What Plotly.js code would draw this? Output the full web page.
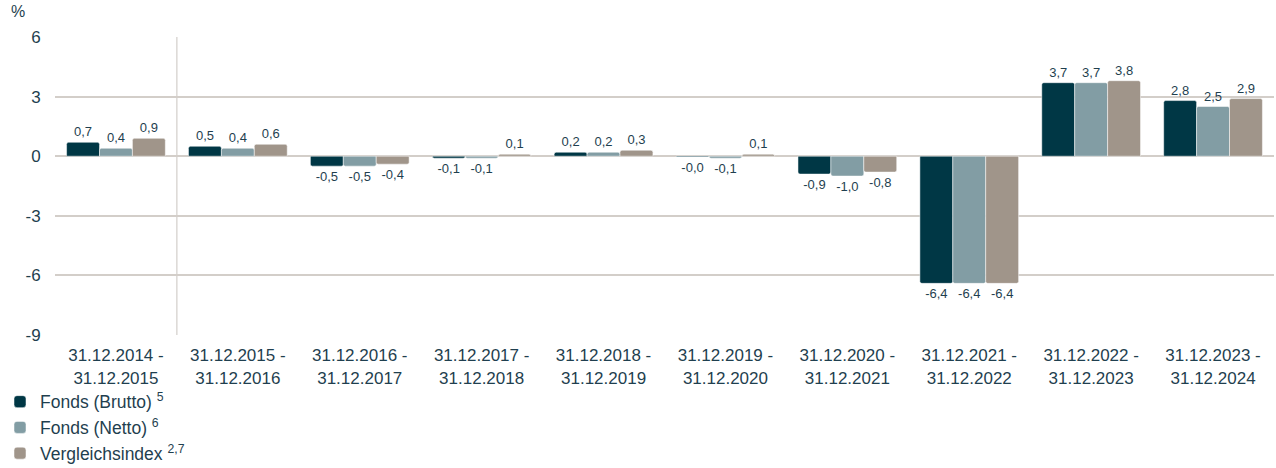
<!DOCTYPE html>
<html>
<head>
<meta charset="utf-8">
<script src="https://cdn.plot.ly/plotly-3.0.1.min.js"></script>
<style>html,body{margin:0;padding:0;background:#fff;}#chart{width:1276px;height:468px;}</style>
</head>
<body>
<div id="chart"></div>
<script>
const categories = [
  "31.12.2014 -<br>31.12.2015",
  "31.12.2015 -<br>31.12.2016",
  "31.12.2016 -<br>31.12.2017",
  "31.12.2017 -<br>31.12.2018",
  "31.12.2018 -<br>31.12.2019",
  "31.12.2019 -<br>31.12.2020",
  "31.12.2020 -<br>31.12.2021",
  "31.12.2021 -<br>31.12.2022",
  "31.12.2022 -<br>31.12.2023",
  "31.12.2023 -<br>31.12.2024"
];
const brutto = [0.7, 0.5, -0.5, -0.1, 0.2, -0.04, -0.9, -6.4, 3.7, 2.8];
const netto = [0.4, 0.4, -0.5, -0.1, 0.2, -0.1, -1.0, -6.4, 3.7, 2.5];
const vergleich = [0.9, 0.6, -0.4, 0.1, 0.3, 0.1, -0.8, -6.4, 3.8, 2.9];
const seriesNames = ["Fonds (Brutto) <sup>5</sup>", "Fonds (Netto) <sup>6</sup>", "Vergleichsindex <sup>2,7</sup>"];
const colors = ["#003745", "#829da4", "#a0958a"];
const yTicks = [-9, -6, -3, 0, 3, 6];

const fmt = v => v.toFixed(1).replace('.', ',');
const textColor = "#1f3f4f";
const font = "Liberation Sans, Arial, sans-serif";

const traces = [brutto, netto, vergleich].map((vals, i) => ({
  type: "bar",
  name: seriesNames[i],
  x: categories,
  y: vals,
  text: vals.map(fmt),
  textposition: "outside",
  cliponaxis: false,
  textfont: {family: font, size: 13, color: textColor},
  marker: {color: colors[i], line: {color: "#ffffff", width: 0.5}, cornerradius: 2},
  hoverinfo: "skip"
}));

const layout = {
  width: 1276, height: 468,
  margin: {l: 55, r: 2, t: 37, b: 133, autoexpand: false},
  paper_bgcolor: "#ffffff", plot_bgcolor: "#ffffff",
  font: {family: font, color: textColor},
  barmode: "group",
  bargap: 0.19,
  bargroupgap: 0,
  showlegend: true,
  legend: {
    orientation: "v", xref: "container", yref: "container",
    x: 0, xanchor: "left", y: 0.18, yanchor: "top",
    font: {family: font, size: 17.5, color: textColor},
    itemwidth: 30, tracegroupgap: 0, traceorder: "normal",
    bgcolor: "rgba(0,0,0,0)"
  },
  xaxis: {
    type: "category",
    tickfont: {family: font, size: 17, color: textColor},
    showgrid: false, showline: false, zeroline: false,
    ticks: "outside", ticklen: 5, tickcolor: "rgba(0,0,0,0)"
  },
  yaxis: {
    range: [-9, 6],
    tickvals: yTicks,
    ticktext: yTicks.map(String),
    tickfont: {family: font, size: 17, color: textColor},
    showgrid: true, gridcolor: "#d3cec9", gridwidth: 2,
    zeroline: false, showline: false,
    ticks: "outside", ticklen: 10, tickcolor: "rgba(0,0,0,0)"
  },
  shapes: [{
    type: "line", xref: "x", yref: "paper", x0: 0.5, x1: 0.5, y0: 0, y1: 1,
    line: {color: "#c9c4bf", width: 1}, layer: "below"
  }],
  annotations: [{
    text: "%", xref: "paper", yref: "paper", x: -0.0375, y: 1.05, xanchor: "left", yanchor: "bottom",
    showarrow: false, font: {family: font, size: 16, color: textColor}
  }]
};

Plotly.newPlot("chart", traces, layout, {displayModeBar: false, staticPlot: true});
</script>
</body>
</html>
